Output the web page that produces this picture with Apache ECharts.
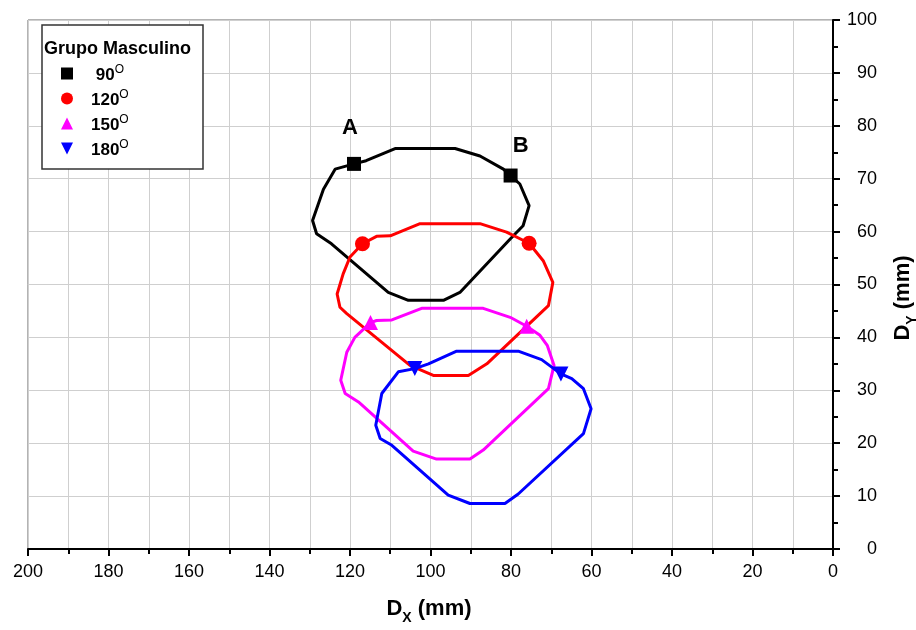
<!DOCTYPE html>
<html>
<head>
<meta charset="utf-8">
<script src="https://cdn.jsdelivr.net/npm/echarts@6/dist/echarts.min.js"></script>
<style>
  html, body { margin: 0; padding: 0; background: #fff; }
  #chart { width: 916px; height: 630px; }
</style>
</head>
<body>
<div id="chart"></div>
<script>
// angle groups (legend) and their colours / marker shapes
const angles = ['90', '120', '150', '180'];
const colors = ['#000000', '#ff0000', '#ff00ff', '#0000ff'];
const shapes = ['rect', 'circle', 'triangle', 'path://M0,0 L10,0 L5,10 Z'];

// contours [Dx, Dy] in mm
const curve90 = [[119, 72.8], [116, 73.4], [108.8, 75.7], [93.9, 75.7], [87.7, 74.3], [81.9, 71.8],
  [80.1, 70.6], [77.8, 69], [75.5, 64.9], [77, 61.1], [80.2, 58.6], [92.7, 48.5], [96.8, 47],
  [105.5, 47], [110.5, 48.5], [124.6, 57.7], [128.3, 59.6], [129.3, 62.1], [126.6, 68], [123.7, 71.8], [119, 72.8]];
const curve120 = [[116.9, 57.7], [113.4, 59.1], [110, 59.2], [102.6, 61.5], [87.7, 61.5], [81.1, 59.9],
  [75.5, 57.8], [72, 54.5], [69.6, 50.4], [70.7, 46], [72.8, 44.5], [86, 35], [90.6, 32.8],
  [99.3, 32.8], [105.1, 34.7], [120.8, 44.5], [122.5, 45.7], [123.2, 48.2], [121.7, 52], [120, 55.2], [116.9, 57.7]];
const curve150 = [[114.9, 42.8], [113.4, 43.2], [109.6, 43.3], [102.2, 45.5], [86.9, 45.5], [80.2, 43.8],
  [76.1, 42.1], [72.8, 40.4], [71, 38.5], [69.3, 34.7], [70.7, 30.3], [86.9, 18.7], [90.2, 17],
  [98.5, 17], [104.3, 18.5], [117.9, 27.8], [121.2, 29.4], [122.3, 31.9], [120.8, 37.2], [118.8, 40], [114.9, 42.8]];
const curve180 = [[103.9, 34.1], [100.5, 35], [93.5, 37.4], [78.2, 37.4], [72.4, 35.8],
  [67.6, 33.1], [64.9, 32.2], [62, 30.3], [60.1, 26.5], [62, 21.8], [78.2, 10.4], [81.5, 8.6],
  [90.2, 8.6], [95.6, 10.2], [109.6, 19.6], [112.5, 20.9], [113.6, 23.4], [112.1, 29.4], [108, 33.5], [103.9, 34.1]];

// marked points on each contour
const marks90 = [[119, 72.8], [80.1, 70.6]];
const marks120 = [[116.9, 57.7], [75.5, 57.8]];
const marks150 = [[114.9, 42.8], [76.1, 42.1]];
const marks180 = [[103.9, 34.1], [67.6, 33.1]];
const pointNames = ['A', 'B'];

const curves = [curve90, curve120, curve150, curve180];
const marks = [marks90, marks120, marks150, marks180];

const FONT = '"Liberation Sans", Arial, sans-serif';
const labelOffsets = [[-4, -36], [10, -30]];

let series = [];
for (let i = 0; i < angles.length; i++) {
  series.push({
    name: angles[i] + ' line',
    type: 'line',
    data: curves[i],
    symbol: 'none',
    lineStyle: { color: colors[i], width: 3 },
    z: 2,
    animation: false
  });
}
for (let i = 0; i < angles.length; i++) {
  series.push({
    name: angles[i],
    type: 'scatter',
    symbol: shapes[i],
    symbolSize: i == 0 ? 14 : 15,
    itemStyle: { color: colors[i], opacity: 1 },
    data: marks[i].map(function (p, k) {
      let d = { value: p };
      if (i == 0) {
        d.label = {
          show: true, formatter: pointNames[k], position: 'inside',
          offset: labelOffsets[k], color: '#000',
          fontSize: 22, fontWeight: 'bold', fontFamily: FONT
        };
      }
      return d;
    }),
    z: 3,
    animation: false
  });
}

const chart = echarts.init(document.getElementById('chart'));
const option = {
  backgroundColor: '#fff',
  animation: false,
  grid: { left: 28, right: 83, top: 20, bottom: 81, show: true, borderColor: '#666', borderWidth: 1 },
  xAxis: {
    type: 'value', inverse: true, min: 0, max: 200, interval: 20,
    axisLine: { onZero: false, lineStyle: { color: '#000', width: 2 } },
    axisTick: { length: 7, lineStyle: { color: '#000', width: 2 } },
    minorTick: { show: true, splitNumber: 2, length: 5, lineStyle: { color: '#000', width: 2 } },
    splitLine: { show: true, lineStyle: { color: '#cfcfcf', width: 1 } },
    minorSplitLine: { show: true, lineStyle: { color: '#cfcfcf', width: 1 } },
    axisLabel: { color: '#000', fontSize: 18, fontFamily: FONT, margin: 14 }
  },
  yAxis: {
    type: 'value', position: 'right', min: 0, max: 100, interval: 10,
    axisLine: { show: true, onZero: false, lineStyle: { color: '#000', width: 2 } },
    axisTick: { show: true, length: 7, lineStyle: { color: '#000', width: 2 } },
    minorTick: { show: true, splitNumber: 2, length: 5, lineStyle: { color: '#000', width: 2 } },
    splitLine: { show: true, lineStyle: { color: '#cfcfcf', width: 1 } },
    axisLabel: { color: '#000', fontSize: 18, fontFamily: FONT, margin: 44, align: 'right' }
  },
  legend: {
    orient: 'vertical', left: 56, top: 58, itemGap: 4,
    itemWidth: 12, itemHeight: 12,
    data: angles.map(function (a, i) { return { name: a, icon: shapes[i] }; }),
    formatter: function (name) {
      return '{n|' + (name.length < 3 ? ' ' : '') + name + '}{s|O}';
    },
    textStyle: {
      rich: {
        n: { fontSize: 17, fontWeight: 'bold', fontFamily: FONT, color: '#000', padding: [4, 0, 0, 13], lineHeight: 20 },
        s: { fontSize: 12, fontFamily: FONT, color: '#000', verticalAlign: 'top', lineHeight: 12 }
      }
    },
    selectedMode: false
  },
  graphic: [
    { type: 'rect', shape: { x: 42, y: 25, width: 161, height: 144 },
      style: { fill: '#fff', stroke: '#333', lineWidth: 1.5 }, z: 1 },
    { type: 'text', x: 44, y: 49, z: 5,
      style: { text: 'Grupo Masculino', font: 'bold 18px ' + FONT, fill: '#000', verticalAlign: 'middle' } },
    { type: 'text', x: 429, y: 609, z: 5,
      style: {
        text: '{a|D}{b|X}{a| (mm)}', align: 'center', verticalAlign: 'middle',
        rich: {
          a: { fontSize: 22, fontWeight: 'bold', fontFamily: FONT, fill: '#000', lineHeight: 24, verticalAlign: 'middle' },
          b: { fontSize: 14, fontWeight: 'bold', fontFamily: FONT, fill: '#000', verticalAlign: 'bottom', lineHeight: 14, padding: [0, 0, -4, 0] }
        }
      } },
    { type: 'text', x: 903, y: 298, rotation: Math.PI / 2, z: 5,
      style: {
        text: '{a|D}{b|Y}{a| (mm)}', align: 'center', verticalAlign: 'middle',
        rich: {
          a: { fontSize: 22, fontWeight: 'bold', fontFamily: FONT, fill: '#000', lineHeight: 24, verticalAlign: 'middle' },
          b: { fontSize: 14, fontWeight: 'bold', fontFamily: FONT, fill: '#000', verticalAlign: 'bottom', lineHeight: 14, padding: [0, 0, -4, 0] }
        }
      } }
  ],
  series: series
};
chart.setOption(option);
</script>
</body>
</html>
